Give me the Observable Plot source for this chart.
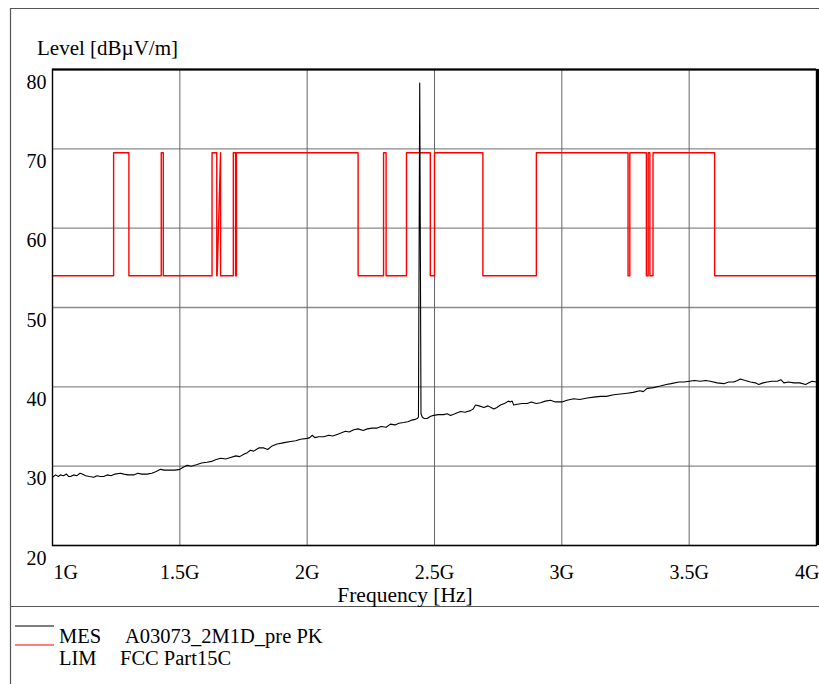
<!DOCTYPE html>
<html>
<head>
<meta charset="utf-8">
<script src="https://cdn.jsdelivr.net/npm/d3@7"></script>
<script src="https://cdn.jsdelivr.net/npm/@observablehq/plot@0.6"></script>
<style>
  html, body { margin: 0; padding: 0; background: #fff; }
  #wrap { position: relative; width: 819px; height: 684px; overflow: hidden; font-family: "Liberation Serif", "Times New Roman", serif; }
  #chart, #deco { position: absolute; left: 0; top: 0; }
</style>
</head>
<body>
<div id="wrap">
  <div id="chart"></div>
  <svg id="deco" width="819" height="684"></svg>
</div>
<script>
// ---- axis ticks ----
const xTicks = [1, 1.5, 2, 2.5, 3, 3.5, 4];               // GHz
const xTickLabels = ["1G", "1.5G", "2G", "2.5G", "3G", "3.5G", "4G"];
const yTicks = [20, 30, 40, 50, 60, 70, 80];               // dBµV/m

// ---- limit line: FCC Part15C (GHz, dBµV/m) ----
const limFreq = [1.0, 1.24, 1.24, 1.3, 1.3, 1.427, 1.427, 1.435, 1.435, 1.6265, 1.6265, 1.645, 1.645, 1.6465,
  1.66, 1.66, 1.71, 1.71, 1.7188, 1.7188, 1.7222, 1.7222, 2.2, 2.2, 2.3, 2.3, 2.31, 2.31, 2.39, 2.39,
  2.4835, 2.4835, 2.5, 2.5, 2.69, 2.69, 2.9, 2.9, 3.26, 3.26, 3.267, 3.267, 3.332, 3.332, 3.339, 3.339,
  3.3458, 3.3458, 3.358, 3.358, 3.6, 3.6, 4.0];
const limLevel = [54, 54, 69.5, 69.5, 54, 54, 69.5, 69.5, 54, 54, 69.5, 69.5, 54, 54,
  69.5, 54, 54, 69.5, 69.5, 54, 54, 69.5, 69.5, 54, 54, 69.5, 69.5, 54, 54, 69.5,
  69.5, 54, 54, 69.5, 69.5, 54, 54, 69.5, 69.5, 54, 54, 69.5, 69.5, 54, 54, 69.5,
  69.5, 54, 54, 69.5, 69.5, 54, 54];

// ---- measurement: MES A03073_2M1D_pre PK (GHz, dBµV/m) ----
const mesFreq = [1.000, 1.012, 1.023, 1.031, 1.043, 1.055, 1.063, 1.071, 1.083, 1.096, 1.108, 1.117, 1.130, 1.145,
  1.162, 1.175, 1.188, 1.201, 1.215, 1.230, 1.245, 1.267, 1.280, 1.295, 1.319, 1.335, 1.350, 1.372, 1.390, 1.405,
  1.424, 1.440, 1.463, 1.480, 1.500, 1.515, 1.529, 1.545, 1.568, 1.585, 1.607, 1.625, 1.640, 1.660, 1.680, 1.699,
  1.720, 1.735, 1.751, 1.765, 1.777, 1.790, 1.810, 1.830, 1.845, 1.860, 1.882, 1.900, 1.915, 1.935, 1.955, 1.974,
  2.000, 2.010, 2.020, 2.030, 2.045, 2.065, 2.085, 2.100, 2.118, 2.135, 2.150, 2.165, 2.183, 2.200, 2.220, 2.236,
  2.255, 2.275, 2.290, 2.310, 2.327, 2.345, 2.360, 2.379, 2.395, 2.410, 2.425, 2.432, 2.437, 2.442, 2.447, 2.452,
  2.460, 2.471, 2.485, 2.497, 2.515, 2.536, 2.550, 2.563, 2.580, 2.602, 2.620, 2.641, 2.652, 2.661, 2.675, 2.694,
  2.710, 2.722, 2.733, 2.745, 2.759, 2.775, 2.790, 2.798, 2.805, 2.811, 2.825, 2.845, 2.864, 2.880, 2.900, 2.916,
  2.935, 2.955, 2.975, 3.001, 3.020, 3.047, 3.070, 3.100, 3.125, 3.152, 3.175, 3.204, 3.230, 3.257, 3.280, 3.306,
  3.320, 3.335, 3.360, 3.387, 3.410, 3.429, 3.460, 3.480, 3.501, 3.520, 3.544, 3.565, 3.583, 3.610, 3.636, 3.655,
  3.675, 3.690, 3.701, 3.720, 3.741, 3.760, 3.773, 3.790, 3.806, 3.825, 3.846, 3.860, 3.872, 3.890, 3.911, 3.935,
  3.957, 3.970, 3.983, 4.000];
const mesLevel = [28.6, 28.9, 28.7, 28.9, 28.8, 29.0, 28.7, 28.7, 28.9, 28.8, 29.1, 29.0, 28.8, 28.7,
  28.6, 28.8, 28.7, 28.7, 28.9, 28.8, 29.0, 29.1, 29.0, 28.9, 28.9, 29.1, 29.0, 29.0, 29.1, 29.3,
  29.6, 29.5, 29.5, 29.5, 29.6, 29.9, 30.1, 30.0, 30.2, 30.4, 30.5, 30.6, 30.8, 31.0, 30.9, 31.1,
  31.3, 31.2, 31.5, 31.7, 32.0, 31.9, 32.3, 32.3, 32.1, 32.5, 32.8, 32.9, 33.0, 33.1, 33.2, 33.4,
  33.5, 33.6, 33.9, 33.6, 33.7, 33.7, 33.9, 33.8, 34.0, 34.2, 34.4, 34.3, 34.6, 34.7, 34.5, 34.7,
  34.8, 34.8, 35.0, 34.9, 35.3, 35.2, 35.4, 35.5, 35.6, 35.8, 35.9, 36.0, 36.2, 78.3, 36.6, 36.2,
  36.0, 36.0, 36.3, 36.4, 36.5, 36.5, 36.6, 36.4, 36.6, 36.9, 36.8, 37.0, 37.2, 37.7, 37.6, 37.4,
  37.6, 37.4, 37.2, 37.4, 37.7, 37.9, 38.2, 38.1, 38.2, 37.7, 37.8, 37.9, 37.9, 38.1, 37.9, 38.0,
  38.2, 38.3, 38.1, 38.1, 38.3, 38.5, 38.4, 38.6, 38.7, 38.8, 38.8, 39.0, 39.1, 39.2, 39.3, 39.5,
  39.4, 39.8, 39.9, 40.1, 40.3, 40.4, 40.6, 40.6, 40.7, 40.8, 40.7, 40.8, 40.7, 40.5, 40.4, 40.6,
  40.6, 40.8, 41.0, 40.8, 40.6, 40.5, 40.3, 40.5, 40.6, 40.7, 40.7, 40.9, 40.5, 40.6, 40.5, 40.5,
  40.3, 40.5, 40.7, 40.6];

// ---- labels ----
const yLabel = "Level [dBµV/m]";
const xLabel = "Frequency [Hz]";
const legendNames = ["MES", "LIM"];
const legendTexts = ["A03073_2M1D_pre PK", "FCC Part15C"];
const legendColors = ["#000000", "#ff0000"];

const lim = limFreq.map((f, i) => ({f, v: limLevel[i]}));
const mes = mesFreq.map((f, i) => ({f, v: mesLevel[i]}));
const xMin = xTicks[0], xMax = xTicks[xTicks.length - 1];
const yMin = yTicks[0];
const tickObjs = xTicks.map((t, i) => ({t, label: xTickLabels[i], i}));
const font = "'Liberation Serif', 'Times New Roman', serif";

const plot = Plot.plot({
  width: 819,
  height: 606,
  marginLeft: 52,
  marginRight: 3,
  marginTop: 69,
  marginBottom: 61,
  style: {fontFamily: font, background: "transparent", overflow: "visible"},
  x: {domain: [xMin, xMax], axis: null},
  y: {domain: [yTicks[0], yTicks[yTicks.length - 1]], axis: null},
  marks: [
    Plot.ruleY(yTicks, {stroke: "#8a8a8a", strokeWidth: 1.3}),
    Plot.ruleX(xTicks, {stroke: "#666", strokeWidth: 1}),
    Plot.line(lim, {x: "f", y: "v", stroke: "#ff0000", strokeWidth: 1.4}),
    Plot.line(mes, {x: "f", y: "v", stroke: "#000", strokeWidth: 1.1}),
    Plot.frame({stroke: "#000", strokeWidth: 1.4}),
    Plot.ruleX([xMax], {stroke: "#000", strokeWidth: 3, dx: 1}),
    Plot.ruleY([yTicks[yTicks.length - 1]], {stroke: "#000", strokeWidth: 2}),
    Plot.text(yTicks, {x: () => xMin, y: d => d, text: d => String(d), textAnchor: "end", lineAnchor: "bottom",
      dx: -6, dy: 19, fontSize: 20, fill: "#000"}),
    Plot.text(tickObjs.filter(d => d.i === 0), {x: "t", y: () => yMin, text: "label", textAnchor: "start",
      lineAnchor: "bottom", dx: 1, dy: 33, fontSize: 20, fill: "#000"}),
    Plot.text(tickObjs.filter(d => d.i > 0 && d.i < xTicks.length - 1), {x: "t", y: () => yMin, text: "label",
      textAnchor: "middle", lineAnchor: "bottom", dy: 33, fontSize: 20, fill: "#000"}),
    Plot.text(tickObjs.filter(d => d.i === xTicks.length - 1), {x: "t", y: () => yMin, text: "label",
      textAnchor: "end", lineAnchor: "bottom", dx: 3, dy: 33, fontSize: 20, fill: "#000"})
  ]
});
document.getElementById("chart").appendChild(plot);

// ---- decorations: outer frame, axis titles, legend ----
const svg = d3.select("#deco").style("font-family", font);
svg.append("line").attr("x1", 10.5).attr("x2", 10.5).attr("y1", 8).attr("y2", 684).attr("stroke", "#555").attr("stroke-width", 1.2);
svg.append("line").attr("x1", 10).attr("x2", 819).attr("y1", 8.5).attr("y2", 8.5).attr("stroke", "#555").attr("stroke-width", 1.2);
svg.append("line").attr("x1", 10).attr("x2", 819).attr("y1", 606.5).attr("y2", 606.5).attr("stroke", "#555").attr("stroke-width", 1.2);
svg.append("text").attr("x", 37).attr("y", 55).attr("font-size", 21).text(yLabel);
svg.append("text").attr("x", 405).attr("y", 602).attr("font-size", 21.5).attr("text-anchor", "middle").text(xLabel);
legendNames.forEach((n, i) => {
  svg.append("line").attr("x1", 15).attr("x2", 54).attr("y1", 626 + i * 19).attr("y2", 626 + i * 19)
    .attr("stroke", legendColors[i]).attr("stroke-width", 1.2);
  svg.append("text").attr("x", 59).attr("y", 643 + i * 22).attr("font-size", 20.5).text(n);
  svg.append("text").attr("x", i === 0 ? 125 : 120).attr("y", 643 + i * 22).attr("font-size", 20.5).text(legendTexts[i]);
});
</script>
</body>
</html>
